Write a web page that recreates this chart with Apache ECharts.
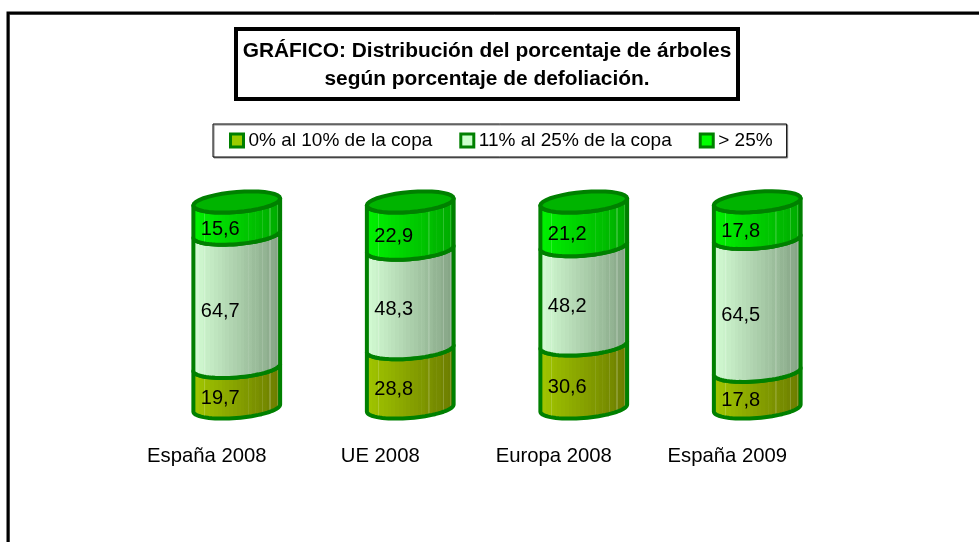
<!DOCTYPE html>
<html>
<head>
<meta charset="utf-8">
<style>
  html, body { margin: 0; padding: 0; background: #fff; }
  #chart { width: 979px; height: 542px; }
</style>
<script src="https://cdn.jsdelivr.net/npm/echarts@6/dist/echarts.min.js"></script>
</head>
<body>
<div id="chart"></div>
<script>
  const categories = ['España 2008', 'UE 2008', 'Europa 2008', 'España 2009'];
  const seriesNames = ['0% al 10% de la copa', '11% al 25% de la copa', '> 25%'];
  const bajo = [19.7, 28.8, 30.6, 17.8];
  const medio = [64.7, 48.3, 48.2, 64.5];
  const alto = [15.6, 22.9, 21.2, 17.8];

  const FONT = '"Liberation Sans", Arial, sans-serif';
  const EDGE = '#008000';
  const RY = 10;
  const TILT = 3.5;

  function mix(a, b, t) {
    const pa = [1, 3, 5].map(i => parseInt(a.substr(i, 2), 16));
    const pb = [1, 3, 5].map(i => parseInt(b.substr(i, 2), 16));
    const c = pa.map((v, i) => Math.round(v + (pb[i] - v) * t));
    return '#' + c.map(v => v.toString(16).padStart(2, '0')).join('');
  }

  // vertical bands plus the pale stripes of the original Excel fill
  function stripedFill(light, dark) {
    const stripes = [0.14, 0.62, 0.7, 0.78, 0.86, 0.94];
    const stops = [];
    const steps = 24;
    for (let i = 0; i < steps; i++) {
      const from = i / steps;
      const to = (i + 1) / steps;
      const color = mix(light, dark, (from + to) / 2);
      stops.push({ offset: from, color: color });
      stops.push({ offset: to, color: color });
    }
    stripes.forEach(s => {
      const base = mix(light, dark, s);
      const pale = mix(base, '#ffffff', 0.18);
      stops.push({ offset: s, color: base });
      stops.push({ offset: s, color: pale });
      stops.push({ offset: s + 0.014, color: pale });
      stops.push({ offset: s + 0.014, color: base });
    });
    stops.sort((p, q) => p.offset - q.offset);
    return new echarts.graphic.LinearGradient(0, 0, 1, 0, stops);
  }

  const fills = [
    { legend: '#99cc00', light: '#a2c800', dark: '#6a7a00' },
    { legend: '#ccffcc', light: '#d6ffd6', dark: '#82a082' },
    { legend: '#00ff00', light: '#00f400', dark: '#00a800' },
  ];
  const stacks = [bajo, medio, alto];

  function arc(cx, cy, rx, from, to) {
    const pts = [];
    const n = 36;
    for (let i = 0; i <= n; i++) {
      const t = from + (to - from) * i / n;
      pts.push([cx + rx * Math.cos(t), cy + RY * Math.sin(t) - TILT * Math.cos(t)]);
    }
    return pts;
  }

  function renderSegment(seriesIndex, isTop) {
    return function (params, api) {
      const cat = api.value(0);
      const start = api.coord([cat, api.value(1)]);
      const end = api.coord([cat, api.value(2)]);
      const rx = api.size([1, 0])[0] * 0.25;
      const cx = start[0];
      const body = arc(cx, end[1], rx, Math.PI, 0).concat(arc(cx, start[1], rx, 0, Math.PI));
      const children = [{
        type: 'polygon',
        shape: { points: body },
        style: {
          fill: stripedFill(fills[seriesIndex].light, fills[seriesIndex].dark),
          stroke: EDGE,
          lineWidth: 4,
          lineJoin: 'round',
        },
      }];
      if (isTop) {
        children.push({
          type: 'polygon',
          shape: { points: arc(cx, end[1], rx, 0, Math.PI * 2) },
          style: { fill: '#00b400', stroke: EDGE, lineWidth: 4 },
        });
      }
      children.push({
        type: 'text',
        style: {
          x: cx - rx * 0.38,
          y: (start[1] + end[1]) / 2 + 11,
          text: String(api.value(3)).replace('.', ','),
          fill: '#000',
          font: '20px ' + FONT,
          align: 'center',
          verticalAlign: 'middle',
        },
      });
      return { type: 'group', children: children };
    };
  }

  const series = stacks.map((values, s) => ({
    name: seriesNames[s],
    type: 'custom',
    renderItem: renderSegment(s, s === stacks.length - 1),
    encode: { x: 0, y: [1, 2] },
    clip: false,
    itemStyle: { color: fills[s].legend },
    data: values.map((v, i) => {
      let base = 0;
      for (let k = 0; k < s; k++) base += stacks[k][i];
      return [i, base, base + v, v];
    }),
  }));

  const chart = echarts.init(document.getElementById('chart'));
  chart.setOption({
    animation: false,
    backgroundColor: '#fff',
    title: {
      text: 'GRÁFICO: Distribución del porcentaje de árboles\nsegún porcentaje de defoliación.',
      left: 480,
      top: 29,
      textAlign: 'center',
      padding: [8, 7, 6, 7],
      borderColor: '#000',
      borderWidth: 4,
      backgroundColor: '#fff',
      textStyle: {
        fontFamily: FONT,
        fontSize: 20.9,
        fontWeight: 'bold',
        color: '#000',
        lineHeight: 28,
      },
    },
    legend: {
      left: 213,
      top: 124,
      padding: [7, 14, 7, 16],
      itemGap: 27,
      itemWidth: 13,
      itemHeight: 13,
      icon: 'rect',
      borderColor: '#000',
      borderWidth: 1,
      backgroundColor: '#fff',
      shadowColor: '#888',
      shadowOffsetX: 1,
      shadowOffsetY: 1,
      textStyle: { fontFamily: FONT, fontSize: 19, color: '#000' },
      data: seriesNames.map((name, i) => ({
        name: name,
        itemStyle: { color: fills[i].legend, borderColor: EDGE, borderWidth: 3 },
      })),
    },
    grid: { left: 150, right: 135, top: 202, bottom: 134 },
    xAxis: {
      type: 'category',
      data: categories,
      axisLine: { show: false },
      axisTick: { show: false },
      axisLabel: {
        margin: 38,
        padding: [0, 60, 0, 0],
        fontFamily: FONT,
        fontSize: 20.3,
        color: '#000',
        interval: 0,
      },
    },
    yAxis: { type: 'value', min: 0, max: 100, show: false, splitLine: { show: false } },
    graphic: [
      { type: 'polyline', silent: true, shape: { points: [[9.5, 542], [9.5, 14.5], [979, 14.5]] }, style: { fill: null, stroke: '#888', lineWidth: 1 } },
      { type: 'polyline', silent: true, shape: { points: [[8, 542], [8, 13], [979, 13]] }, style: { fill: null, stroke: '#000', lineWidth: 3 } },
    ],
    series: series,
  });
</script>
</body>
</html>
